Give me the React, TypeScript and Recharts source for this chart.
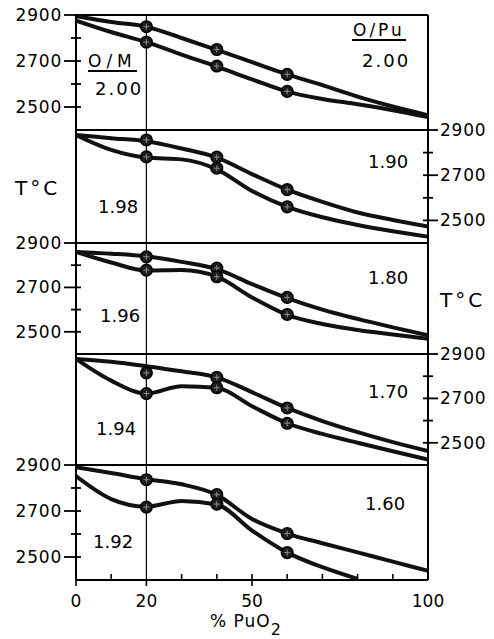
import React from 'react';
import { ComposedChart, Line, Scatter, XAxis, YAxis, ReferenceLine } from 'recharts';

// % PuO2 positions at which the curves are read
const pctPuO2 = [0, 10, 20, 30, 40, 50, 60, 70, 80, 90, 100];
// measured points
const markPct = [20, 40, 60];

// O/M 2.00 (O/Pu 2.00)
const upper200 = [2895, 2870, 2849, 2800, 2748, 2695, 2642, 2595, 2545, 2502, 2464];
const lower200 = [2876, 2826, 2782, 2728, 2676, 2620, 2567, 2535, 2512, 2486, 2456];
const markUpper200 = [2849, 2750, 2642];
const markLower200 = [2782, 2678, 2568];
// O/M 1.98 (O/Pu 1.90)
const upper198 = [2878, 2864, 2850, 2818, 2778, 2705, 2636, 2582, 2535, 2502, 2473];
const lower198 = [2878, 2812, 2778, 2770, 2726, 2630, 2560, 2514, 2480, 2452, 2428];
const markUpper198 = [2856, 2780, 2636];
const markLower198 = [2781, 2731, 2560];
// O/M 1.96 (O/Pu 1.80)
const upper196 = [2860, 2852, 2840, 2815, 2782, 2715, 2652, 2600, 2558, 2520, 2484];
const lower196 = [2860, 2812, 2776, 2778, 2748, 2655, 2576, 2535, 2508, 2488, 2469];
const markUpper196 = [2838, 2787, 2655];
const markLower196 = [2778, 2748, 2578];
// O/M 1.94 (O/Pu 1.70)
const upper194 = [2878, 2865, 2845, 2822, 2795, 2728, 2657, 2598, 2548, 2503, 2463];
const lower194 = [2878, 2780, 2722, 2755, 2748, 2665, 2588, 2540, 2500, 2462, 2425];
const markUpper194 = [2815, 2795, 2657];
const markLower194 = [2722, 2748, 2588];
// O/M 1.92 (O/Pu 1.60)
const upper192 = [2890, 2865, 2838, 2816, 2770, 2665, 2602, 2560, 2520, 2480, 2440];
const lower192 = [2852, 2752, 2719, 2744, 2728, 2615, 2519, 2456, 2405, null, null];
const markUpper192 = [2836, 2771, 2602];
const markLower192 = [2717, 2730, 2519];

const xTicks = [0, 10, 20, 30, 40, 50, 60, 70, 80, 90, 100];
const xLabelValues = [0, 20, 50, 100];
const yTicks = [2500, 2600, 2700, 2800, 2900];
const yLabelValues = [2500, 2700, 2900];

const W = 494;
const PLOT_LEFT = 76;
const PLOT_RIGHT = 428;
const PAD = 16;
const FONT = '"DejaVu Sans", sans-serif';

type PanelDef = {
  top: number;
  bottom: number;
  side: 'left' | 'right';
  upper: (number | null)[];
  lower: (number | null)[];
  mu: number[];
  ml: number[];
  bottomAxis?: boolean;
};

const panels: PanelDef[] = [
  { top: 15, bottom: 130, side: 'left', upper: upper200, lower: lower200, mu: markUpper200, ml: markLower200 },
  { top: 130, bottom: 243, side: 'right', upper: upper198, lower: lower198, mu: markUpper198, ml: markLower198 },
  { top: 243, bottom: 354, side: 'left', upper: upper196, lower: lower196, mu: markUpper196, ml: markLower196 },
  { top: 354, bottom: 465, side: 'right', upper: upper194, lower: lower194, mu: markUpper194, ml: markLower194 },
  { top: 465, bottom: 580, side: 'left', upper: upper192, lower: lower192, mu: markUpper192, ml: markLower192, bottomAxis: true },
];

function Marker(props: any) {
  const { cx, cy } = props;
  if (cx == null || cy == null) return null;
  return (
    <g>
      <circle cx={cx} cy={cy} r={5.8} fill="#1c1c1c" stroke="#000" strokeWidth={1.5} />
      <line x1={cx - 3} x2={cx + 3} y1={cy} y2={cy} stroke="#9a9a9a" strokeWidth={0.9} />
      <line x1={cx} x2={cx} y1={cy - 3} y2={cy + 3} stroke="#9a9a9a" strokeWidth={0.9} />
    </g>
  );
}

const makeXTick = (labels: boolean) => (p: any) => {
  const { x, y, payload } = p;
  const v = payload.value;
  return (
    <g>
      {v !== 0 && v !== 100 && v !== 20 && (
        <line x1={x} x2={x} y1={y} y2={y - 6} stroke="#000" strokeWidth={1.6} />
      )}
      {labels && (v === 20 || v === 50 || v === 0) && (
        <line x1={x} x2={x} y1={y} y2={y + 6} stroke="#000" strokeWidth={1.6} />
      )}
      {labels && xLabelValues.includes(v) && (
        <text x={x} y={y + 27} textAnchor="middle" fontFamily={FONT} fontSize={17} fill="#000">
          {v}
        </text>
      )}
    </g>
  );
};

const makeYTick = (side: 'left' | 'right') => (p: any) => {
  const { x, y, payload } = p;
  const v = payload.value;
  const labeled = yLabelValues.includes(v);
  if (side === 'left') {
    return (
      <g>
        <line x1={labeled ? x - 12 : x - 5} x2={v === 2900 ? x : x + 5} y1={y} y2={y} stroke="#000" strokeWidth={1.8} />
        {labeled && (
          <text x={x - 14} y={y} dy={6} textAnchor="end" fontFamily={FONT} fontSize={17} letterSpacing={0.8} fill="#000">
            {v}
          </text>
        )}
      </g>
    );
  }
  return (
    <g>
      <line x1={v === 2900 ? x : x - 5} x2={labeled ? x + 10 : x + 5} y1={y} y2={y} stroke="#000" strokeWidth={1.8} />
      {labeled && (
        <text x={x + 12} y={y} dy={6} textAnchor="start" fontFamily={FONT} fontSize={17} letterSpacing={0.8} fill="#000">
          {v}
        </text>
      )}
    </g>
  );
};

function Panel({ def }: { def: PanelDef }) {
  const h = def.bottom - def.top;
  const xAxisH = def.bottomAxis ? 48 : 0;
  const height = h + PAD + (def.bottomAxis ? xAxisH : PAD);
  const data = pctPuO2.map((x, i) => ({ x, upper: def.upper[i], lower: def.lower[i] }));
  const mu = markPct.map((x, i) => ({ x, t: def.mu[i] }));
  const ml = markPct.map((x, i) => ({ x, t: def.ml[i] }));
  const margin =
    def.side === 'left'
      ? { top: PAD, bottom: def.bottomAxis ? 0 : PAD, left: 0, right: W - PLOT_RIGHT }
      : { top: PAD, bottom: PAD, left: PLOT_LEFT, right: 0 };
  return (
    <div style={{ position: 'absolute', left: 0, top: def.top - PAD }}>
      <ComposedChart width={W} height={height} data={data} margin={margin}>
        <XAxis
          type="number"
          dataKey="x"
          domain={[0, 100]}
          ticks={xTicks}
          interval={0}
          height={xAxisH}
          tickSize={0}
          tickMargin={0}
          tickLine={false}
          axisLine={{ stroke: '#000', strokeWidth: 2 }}
          tick={makeXTick(!!def.bottomAxis)}
          allowDataOverflow
        />
        <YAxis
          type="number"
          orientation={def.side}
          width={def.side === 'left' ? PLOT_LEFT : W - PLOT_RIGHT}
          domain={[2400, 2900]}
          ticks={yTicks}
          interval={0}
          tickSize={0}
          tickMargin={0}
          tickLine={false}
          axisLine={{ stroke: '#000', strokeWidth: 2 }}
          tick={makeYTick(def.side)}
          allowDataOverflow
        />
        <ReferenceLine y={2900} stroke="#000" strokeWidth={2} />
        <ReferenceLine x={def.side === 'left' ? 100 : 0} stroke="#000" strokeWidth={2} />
        <ReferenceLine x={20} stroke="#000" strokeWidth={1.2} />
        <Line dataKey="upper" type="monotone" stroke="#111" strokeWidth={4} dot={false} isAnimationActive={false} />
        <Line dataKey="lower" type="monotone" stroke="#111" strokeWidth={4} dot={false} isAnimationActive={false} />
        <Scatter data={mu} dataKey="t" shape={Marker} isAnimationActive={false} />
        <Scatter data={ml} dataKey="t" shape={Marker} isAnimationActive={false} />
      </ComposedChart>
    </div>
  );
}

export default function App() {
  return (
    <div style={{ position: 'absolute', left: 0, top: 0, width: W, height: 639, background: '#fff' }}>
      {panels.map((d, i) => (
        <Panel key={i} def={d} />
      ))}
      <svg width={W} height={639} style={{ position: 'absolute', left: 0, top: 0, pointerEvents: 'none' }}>
        <g fontFamily={FONT} fill="#000">
          <text x={88} y={67} fontSize={17} letterSpacing={5}>O/M</text>
          <line x1={88} x2={137} y1={71} y2={71} stroke="#000" strokeWidth={1.8} />
          <text x={95} y={95} fontSize={18} letterSpacing={2}>2.00</text>
          <text x={353} y={36} fontSize={17} letterSpacing={3}>O/Pu</text>
          <line x1={352} x2={406} y1={40} y2={40} stroke="#000" strokeWidth={1.8} />
          <text x={362} y={67} fontSize={18} letterSpacing={2}>2.00</text>
          <text x={15} y={195} fontSize={20} letterSpacing={3}>T°C</text>
          <text x={98} y={213} fontSize={18}>1.98</text>
          <text x={368} y={168} fontSize={18}>1.90</text>
          <text x={100} y={322} fontSize={18}>1.96</text>
          <text x={368} y={284} fontSize={18}>1.80</text>
          <text x={440} y={307} fontSize={20} letterSpacing={3}>T°C</text>
          <text x={96} y={435} fontSize={18}>1.94</text>
          <text x={368} y={398} fontSize={18}>1.70</text>
          <text x={93} y={548} fontSize={18}>1.92</text>
          <text x={365} y={510} fontSize={18}>1.60</text>
          <text x={210} y={627} fontSize={17} letterSpacing={1}>
            % PuO<tspan dy={8} fontSize={16}>2</tspan>
          </text>
        </g>
      </svg>
    </div>
  );
}
